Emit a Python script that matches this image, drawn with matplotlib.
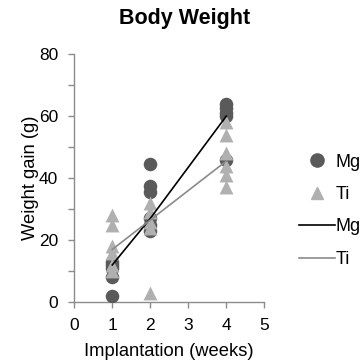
import matplotlib
matplotlib.use("Agg")
import matplotlib.pyplot as plt
from matplotlib.lines import Line2D

# Individual weight gain values (g) per implantation week
mg_weeks = [1, 1, 1, 1, 1, 2, 2, 2, 2, 2, 2, 4, 4, 4, 4, 4]
mg_gain = [2, 8, 11, 12, 13, 44.5, 37.5, 35.5, 27, 25, 23, 64, 62.5, 61, 60, 46]

ti_weeks = [1, 1, 1, 1, 1, 1, 2, 2, 2, 2, 2, 4, 4, 4, 4, 4, 4]
ti_gain = [28, 25, 18, 16, 12, 10, 32, 29, 26, 24, 3, 58, 54, 48, 44, 41, 37]

# Trend lines (weeks 1, 2, 4)
line_weeks = [1, 2, 4]
mg_line = [12, 27, 60]
ti_line = [17, 26.5, 45.5]

MG_COLOR = "#5a5a5a"
TI_COLOR = "#b0b0b0"
SPINE = "#8c8c8c"

plt.rcParams["font.family"] = ["Liberation Sans", "DejaVu Sans"]

fig = plt.figure(figsize=(3.64, 3.61), dpi=100)
ax = fig.add_axes([0.204, 0.163, 0.522, 0.687])

ax.scatter(mg_weeks, mg_gain, s=95, marker="o", color=MG_COLOR, linewidths=0, zorder=3)
ax.scatter(ti_weeks, ti_gain, s=100, marker="^", color=TI_COLOR, linewidths=0, zorder=3)
ax.plot(line_weeks, mg_line, color="black", lw=1.2, zorder=4)
ax.plot(line_weeks, ti_line, color="#8a8a8a", lw=1.2, zorder=4)

ax.set_xlim(0, 5)
ax.set_ylim(0, 80)
ax.set_xticks(range(0, 6))
ax.set_yticks(range(0, 81, 20))
ax.set_yticks(range(10, 80, 20), minor=True)
for side in ("top", "right"):
    ax.spines[side].set_visible(False)
for side in ("left", "bottom"):
    ax.spines[side].set_color(SPINE)
    ax.spines[side].set_linewidth(1.0)
ax.tick_params(axis="both", which="both", direction="out", length=4, width=1.0,
               color=SPINE, labelsize=12.5, labelcolor="black", pad=7.5)

ax.set_xlabel("Implantation (weeks)", fontsize=13.2, labelpad=7)
ax.set_ylabel("Weight gain (g)", fontsize=13.2, labelpad=0)

# title sits a little right of the axes centre in the reference
fig.text(0.508, 0.95, "Body Weight", fontsize=15.5, fontweight="bold",
         ha="center", va="center")

handles = [
    Line2D([], [], marker="o", ls="none", color=MG_COLOR, markersize=9.5),
    Line2D([], [], marker="^", ls="none", color=TI_COLOR, markersize=9),
    Line2D([], [], color="black", lw=1.2),
    Line2D([], [], color="#8a8a8a", lw=1.2),
]
fig.legend(handles, ["Mg", "Ti", "Mg", "Ti"], loc="center left",
           bbox_to_anchor=(0.776, 0.416), frameon=False, fontsize=13,
           handlelength=2.0, handletextpad=0.05, labelspacing=0.85)

fig.savefig("out.png", dpi=100)
